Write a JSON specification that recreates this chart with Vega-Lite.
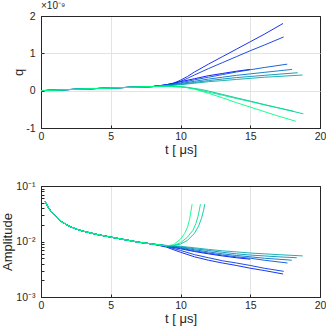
{
  "$schema": "https://vega.github.io/schema/vega-lite/v6.json",
  "background": "white",
  "padding": {"left": 0, "top": 0, "right": 0, "bottom": 0},
  "bounds": "flush",
  "spacing": 58,
  "config": {
    "font": "Liberation Sans",
    "view": {"stroke": "#262626", "strokeWidth": 1},
    "axis": {
      "labelFont": "Liberation Sans", "titleFont": "Liberation Sans",
      "labelFontSize": 10.5, "titleFontSize": 13, "titleFontWeight": "normal",
      "labelColor": "#262626", "titleColor": "#262626",
      "gridWidth": 1, "tickColor": "#262626", "tickSize": -3,
      "domain": false, "labelFlush": false, "labelOverlap": false
    },
    "axisX": {"labelPadding": 6, "minExtent": 13, "maxExtent": 13, "titlePadding": 2},
    "axisY": {"labelPadding": 9}
  },
  "datasets": {
    "qdata": [
      {"s":0,"t":0,"q":0},{"s":0,"t":2,"q":0.03e-9},{"s":0,"t":4,"q":0.058e-9},{"s":0,"t":6,"q":0.085e-9},{"s":0,"t":8,"q":0.11e-9},
      {"s":0,"t":9,"q":0.16e-9},{"s":0,"t":10,"q":0.24e-9},{"s":0,"t":11,"q":0.32e-9},{"s":0,"t":12,"q":0.40e-9},{"s":0,"t":13,"q":0.46e-9},{"s":0,"t":14,"q":0.52e-9},{"s":0,"t":15,"q":0.57e-9},
      {"s":1,"t":0,"q":0},{"s":1,"t":2,"q":0.03e-9},{"s":1,"t":4,"q":0.058e-9},{"s":1,"t":6,"q":0.085e-9},{"s":1,"t":8,"q":0.11e-9},
      {"s":1,"t":8.5,"q":0.13e-9},{"s":1,"t":9,"q":0.16e-9},{"s":1,"t":9.5,"q":0.2e-9},{"s":1,"t":10,"q":0.28e-9},{"s":1,"t":10.5,"q":0.38e-9},{"s":1,"t":11,"q":0.5e-9},{"s":1,"t":12,"q":0.71e-9},{"s":1,"t":13,"q":0.91e-9},{"s":1,"t":14,"q":1.11e-9},{"s":1,"t":15,"q":1.31e-9},{"s":1,"t":16,"q":1.51e-9},{"s":1,"t":17.35,"q":1.8e-9},
      {"s":2,"t":0,"q":0},{"s":2,"t":2,"q":0.03e-9},{"s":2,"t":4,"q":0.058e-9},{"s":2,"t":6,"q":0.085e-9},{"s":2,"t":8,"q":0.11e-9},
      {"s":2,"t":8.5,"q":0.13e-9},{"s":2,"t":9,"q":0.155e-9},{"s":2,"t":9.5,"q":0.19e-9},{"s":2,"t":10,"q":0.25e-9},{"s":2,"t":10.5,"q":0.33e-9},{"s":2,"t":11,"q":0.42e-9},{"s":2,"t":12,"q":0.59e-9},{"s":2,"t":13,"q":0.75e-9},{"s":2,"t":14,"q":0.91e-9},{"s":2,"t":15,"q":1.07e-9},{"s":2,"t":16,"q":1.22e-9},{"s":2,"t":17.4,"q":1.44e-9},
      {"s":3,"t":0,"q":0},{"s":3,"t":2,"q":0.03e-9},{"s":3,"t":4,"q":0.058e-9},{"s":3,"t":6,"q":0.085e-9},{"s":3,"t":8,"q":0.11e-9},
      {"s":3,"t":9,"q":0.15e-9},{"s":3,"t":10,"q":0.21e-9},{"s":3,"t":11,"q":0.29e-9},{"s":3,"t":12,"q":0.36e-9},{"s":3,"t":13,"q":0.43e-9},{"s":3,"t":14,"q":0.5e-9},{"s":3,"t":15,"q":0.56e-9},{"s":3,"t":16,"q":0.62e-9},{"s":3,"t":17.65,"q":0.71e-9},
      {"s":4,"t":0,"q":0},{"s":4,"t":2,"q":0.03e-9},{"s":4,"t":4,"q":0.058e-9},{"s":4,"t":6,"q":0.085e-9},{"s":4,"t":8,"q":0.11e-9},
      {"s":4,"t":9,"q":0.145e-9},{"s":4,"t":10,"q":0.19e-9},{"s":4,"t":11,"q":0.25e-9},{"s":4,"t":12,"q":0.31e-9},{"s":4,"t":13,"q":0.36e-9},{"s":4,"t":14,"q":0.41e-9},{"s":4,"t":15,"q":0.45e-9},{"s":4,"t":16,"q":0.49e-9},{"s":4,"t":17,"q":0.53e-9},{"s":4,"t":18,"q":0.57e-9},
      {"s":5,"t":0,"q":0},{"s":5,"t":2,"q":0.03e-9},{"s":5,"t":4,"q":0.058e-9},{"s":5,"t":6,"q":0.085e-9},{"s":5,"t":8,"q":0.11e-9},
      {"s":5,"t":9,"q":0.14e-9},{"s":5,"t":10,"q":0.17e-9},{"s":5,"t":11,"q":0.22e-9},{"s":5,"t":12,"q":0.27e-9},{"s":5,"t":13,"q":0.31e-9},{"s":5,"t":14,"q":0.35e-9},{"s":5,"t":15,"q":0.38e-9},{"s":5,"t":16,"q":0.41e-9},{"s":5,"t":17,"q":0.44e-9},{"s":5,"t":18.4,"q":0.48e-9},
      {"s":6,"t":0,"q":0},{"s":6,"t":2,"q":0.03e-9},{"s":6,"t":4,"q":0.058e-9},{"s":6,"t":6,"q":0.085e-9},{"s":6,"t":8,"q":0.11e-9},
      {"s":6,"t":9,"q":0.13e-9},{"s":6,"t":10,"q":0.16e-9},{"s":6,"t":11,"q":0.2e-9},{"s":6,"t":12,"q":0.24e-9},{"s":6,"t":13,"q":0.27e-9},{"s":6,"t":14,"q":0.3e-9},{"s":6,"t":15,"q":0.33e-9},{"s":6,"t":16,"q":0.36e-9},{"s":6,"t":17,"q":0.38e-9},{"s":6,"t":18.75,"q":0.42e-9},
      {"s":7,"t":0,"q":0},{"s":7,"t":2,"q":0.03e-9},{"s":7,"t":4,"q":0.058e-9},{"s":7,"t":6,"q":0.085e-9},{"s":7,"t":8,"q":0.11e-9},
      {"s":7,"t":9,"q":0.12e-9},{"s":7,"t":10,"q":0.11e-9},{"s":7,"t":10.5,"q":0.09e-9},{"s":7,"t":11,"q":0.06e-9},{"s":7,"t":11.5,"q":0.03e-9},{"s":7,"t":12,"q":-0.01e-9},{"s":7,"t":13,"q":-0.1e-9},{"s":7,"t":14,"q":-0.19e-9},{"s":7,"t":15,"q":-0.28e-9},{"s":7,"t":16,"q":-0.37e-9},{"s":7,"t":17,"q":-0.46e-9},{"s":7,"t":18.8,"q":-0.62e-9},
      {"s":8,"t":0,"q":0},{"s":8,"t":2,"q":0.03e-9},{"s":8,"t":4,"q":0.058e-9},{"s":8,"t":6,"q":0.085e-9},{"s":8,"t":8,"q":0.11e-9},
      {"s":8,"t":9,"q":0.12e-9},{"s":8,"t":10,"q":0.1e-9},{"s":8,"t":10.5,"q":0.08e-9},{"s":8,"t":11,"q":0.05e-9},{"s":8,"t":12,"q":-0.04e-9},{"s":8,"t":13,"q":-0.12e-9},{"s":8,"t":14,"q":-0.21e-9},{"s":8,"t":15,"q":-0.29e-9},{"s":8,"t":16,"q":-0.38e-9},{"s":8,"t":17,"q":-0.46e-9},{"s":8,"t":18.1,"q":-0.55e-9},
      {"s":9,"t":0,"q":0},{"s":9,"t":2,"q":0.03e-9},{"s":9,"t":4,"q":0.058e-9},{"s":9,"t":6,"q":0.085e-9},{"s":9,"t":8,"q":0.11e-9},
      {"s":9,"t":9,"q":0.12e-9},{"s":9,"t":10,"q":0.1e-9},{"s":9,"t":10.5,"q":0.08e-9},{"s":9,"t":11,"q":0.04e-9},{"s":9,"t":12,"q":-0.07e-9},{"s":9,"t":13,"q":-0.19e-9},{"s":9,"t":14,"q":-0.32e-9},{"s":9,"t":15,"q":-0.44e-9},{"s":9,"t":16,"q":-0.56e-9},{"s":9,"t":17,"q":-0.68e-9},{"s":9,"t":18.27,"q":-0.82e-9}
    ],
    "adata": [
      {"s":0,"t":0.3,"a":0.052},{"s":0,"t":0.5,"a":0.042},{"s":0,"t":0.75,"a":0.034},{"s":0,"t":1,"a":0.029},{"s":0,"t":1.5,"a":0.0225},{"s":0,"t":2,"a":0.019},{"s":0,"t":2.5,"a":0.0168},{"s":0,"t":3,"a":0.0154},{"s":0,"t":4,"a":0.0134},{"s":0,"t":5,"a":0.012},{"s":0,"t":6,"a":0.0108},{"s":0,"t":7,"a":0.0097},{"s":0,"t":8,"a":0.009},
      {"s":0,"t":9,"a":0.0082},{"s":0,"t":10,"a":0.0074},{"s":0,"t":11,"a":0.0066},{"s":0,"t":12,"a":0.006},{"s":0,"t":13,"a":0.0055},{"s":0,"t":14,"a":0.0051},{"s":0,"t":15,"a":0.0048},
      {"s":1,"t":0.3,"a":0.052},{"s":1,"t":0.5,"a":0.042},{"s":1,"t":0.75,"a":0.034},{"s":1,"t":1,"a":0.029},{"s":1,"t":1.5,"a":0.0225},{"s":1,"t":2,"a":0.019},{"s":1,"t":2.5,"a":0.0168},{"s":1,"t":3,"a":0.0154},{"s":1,"t":4,"a":0.0134},{"s":1,"t":5,"a":0.012},{"s":1,"t":6,"a":0.0108},{"s":1,"t":7,"a":0.0097},{"s":1,"t":8,"a":0.009},
      {"s":1,"t":9,"a":0.0079},{"s":1,"t":10,"a":0.0064},{"s":1,"t":11,"a":0.0053},{"s":1,"t":12,"a":0.0046},{"s":1,"t":13,"a":0.0041},{"s":1,"t":14,"a":0.0037},{"s":1,"t":15,"a":0.0033},{"s":1,"t":16,"a":0.003},{"s":1,"t":17.35,"a":0.0026},
      {"s":2,"t":0.3,"a":0.052},{"s":2,"t":0.5,"a":0.042},{"s":2,"t":0.75,"a":0.034},{"s":2,"t":1,"a":0.029},{"s":2,"t":1.5,"a":0.0225},{"s":2,"t":2,"a":0.019},{"s":2,"t":2.5,"a":0.0168},{"s":2,"t":3,"a":0.0154},{"s":2,"t":4,"a":0.0134},{"s":2,"t":5,"a":0.012},{"s":2,"t":6,"a":0.0108},{"s":2,"t":7,"a":0.0097},{"s":2,"t":8,"a":0.009},
      {"s":2,"t":9,"a":0.0081},{"s":2,"t":10,"a":0.0069},{"s":2,"t":11,"a":0.0058},{"s":2,"t":12,"a":0.0051},{"s":2,"t":13,"a":0.0045},{"s":2,"t":14,"a":0.0041},{"s":2,"t":15,"a":0.0037},{"s":2,"t":16,"a":0.0033},{"s":2,"t":17.4,"a":0.0029},
      {"s":3,"t":0.3,"a":0.052},{"s":3,"t":0.5,"a":0.042},{"s":3,"t":0.75,"a":0.034},{"s":3,"t":1,"a":0.029},{"s":3,"t":1.5,"a":0.0225},{"s":3,"t":2,"a":0.019},{"s":3,"t":2.5,"a":0.0168},{"s":3,"t":3,"a":0.0154},{"s":3,"t":4,"a":0.0134},{"s":3,"t":5,"a":0.012},{"s":3,"t":6,"a":0.0108},{"s":3,"t":7,"a":0.0097},{"s":3,"t":8,"a":0.009},
      {"s":3,"t":9,"a":0.0083},{"s":3,"t":10,"a":0.0076},{"s":3,"t":11,"a":0.0068},{"s":3,"t":12,"a":0.0062},{"s":3,"t":13,"a":0.0057},{"s":3,"t":14,"a":0.0053},{"s":3,"t":15,"a":0.005},{"s":3,"t":16,"a":0.0046},{"s":3,"t":17.67,"a":0.0041},
      {"s":4,"t":0.3,"a":0.052},{"s":4,"t":0.5,"a":0.042},{"s":4,"t":0.75,"a":0.034},{"s":4,"t":1,"a":0.029},{"s":4,"t":1.5,"a":0.0225},{"s":4,"t":2,"a":0.019},{"s":4,"t":2.5,"a":0.0168},{"s":4,"t":3,"a":0.0154},{"s":4,"t":4,"a":0.0134},{"s":4,"t":5,"a":0.012},{"s":4,"t":6,"a":0.0108},{"s":4,"t":7,"a":0.0097},{"s":4,"t":8,"a":0.009},
      {"s":4,"t":9,"a":0.0084},{"s":4,"t":10,"a":0.0078},{"s":4,"t":11,"a":0.0071},{"s":4,"t":12,"a":0.0065},{"s":4,"t":13,"a":0.006},{"s":4,"t":14,"a":0.0056},{"s":4,"t":15,"a":0.0053},{"s":4,"t":16,"a":0.005},{"s":4,"t":17.98,"a":0.0046},
      {"s":5,"t":0.3,"a":0.052},{"s":5,"t":0.5,"a":0.042},{"s":5,"t":0.75,"a":0.034},{"s":5,"t":1,"a":0.029},{"s":5,"t":1.5,"a":0.0225},{"s":5,"t":2,"a":0.019},{"s":5,"t":2.5,"a":0.0168},{"s":5,"t":3,"a":0.0154},{"s":5,"t":4,"a":0.0134},{"s":5,"t":5,"a":0.012},{"s":5,"t":6,"a":0.0108},{"s":5,"t":7,"a":0.0097},{"s":5,"t":8,"a":0.009},
      {"s":5,"t":9,"a":0.0084},{"s":5,"t":10,"a":0.008},{"s":5,"t":11,"a":0.0074},{"s":5,"t":12,"a":0.0069},{"s":5,"t":13,"a":0.0064},{"s":5,"t":14,"a":0.006},{"s":5,"t":15,"a":0.0057},{"s":5,"t":16,"a":0.0055},{"s":5,"t":17,"a":0.0053},{"s":5,"t":18.33,"a":0.0051},
      {"s":6,"t":0.3,"a":0.052},{"s":6,"t":0.5,"a":0.042},{"s":6,"t":0.75,"a":0.034},{"s":6,"t":1,"a":0.029},{"s":6,"t":1.5,"a":0.0225},{"s":6,"t":2,"a":0.019},{"s":6,"t":2.5,"a":0.0168},{"s":6,"t":3,"a":0.0154},{"s":6,"t":4,"a":0.0134},{"s":6,"t":5,"a":0.012},{"s":6,"t":6,"a":0.0108},{"s":6,"t":7,"a":0.0097},{"s":6,"t":8,"a":0.009},
      {"s":6,"t":9,"a":0.0085},{"s":6,"t":10,"a":0.0082},{"s":6,"t":11,"a":0.0077},{"s":6,"t":12,"a":0.0072},{"s":6,"t":13,"a":0.0068},{"s":6,"t":14,"a":0.0065},{"s":6,"t":15,"a":0.0062},{"s":6,"t":16,"a":0.006},{"s":6,"t":17,"a":0.0058},{"s":6,"t":18.76,"a":0.0055},
      {"s":7,"t":0.3,"a":0.052},{"s":7,"t":0.5,"a":0.042},{"s":7,"t":0.75,"a":0.034},{"s":7,"t":1,"a":0.029},{"s":7,"t":1.5,"a":0.0225},{"s":7,"t":2,"a":0.019},{"s":7,"t":2.5,"a":0.0168},{"s":7,"t":3,"a":0.0154},{"s":7,"t":4,"a":0.0134},{"s":7,"t":5,"a":0.012},{"s":7,"t":6,"a":0.0108},{"s":7,"t":7,"a":0.0097},{"s":7,"t":8,"a":0.009},
      {"s":7,"t":9,"a":0.0084},{"s":7,"t":9.5,"a":0.0084},{"s":7,"t":10,"a":0.009},{"s":7,"t":10.5,"a":0.0105},{"s":7,"t":11,"a":0.014},{"s":7,"t":11.3,"a":0.019},{"s":7,"t":11.5,"a":0.026},{"s":7,"t":11.65,"a":0.036},{"s":7,"t":11.74,"a":0.047},
      {"s":8,"t":0.3,"a":0.052},{"s":8,"t":0.5,"a":0.042},{"s":8,"t":0.75,"a":0.034},{"s":8,"t":1,"a":0.029},{"s":8,"t":1.5,"a":0.0225},{"s":8,"t":2,"a":0.019},{"s":8,"t":2.5,"a":0.0168},{"s":8,"t":3,"a":0.0154},{"s":8,"t":4,"a":0.0134},{"s":8,"t":5,"a":0.012},{"s":8,"t":6,"a":0.0108},{"s":8,"t":7,"a":0.0097},{"s":8,"t":8,"a":0.009},
      {"s":8,"t":9,"a":0.0083},{"s":8,"t":9.5,"a":0.0085},{"s":8,"t":10,"a":0.0095},{"s":8,"t":10.5,"a":0.012},{"s":8,"t":10.9,"a":0.016},{"s":8,"t":11.1,"a":0.021},{"s":8,"t":11.25,"a":0.028},{"s":8,"t":11.35,"a":0.037},{"s":8,"t":11.43,"a":0.047},
      {"s":9,"t":0.3,"a":0.052},{"s":9,"t":0.5,"a":0.042},{"s":9,"t":0.75,"a":0.034},{"s":9,"t":1,"a":0.029},{"s":9,"t":1.5,"a":0.0225},{"s":9,"t":2,"a":0.019},{"s":9,"t":2.5,"a":0.0168},{"s":9,"t":3,"a":0.0154},{"s":9,"t":4,"a":0.0134},{"s":9,"t":5,"a":0.012},{"s":9,"t":6,"a":0.0108},{"s":9,"t":7,"a":0.0097},{"s":9,"t":8,"a":0.009},
      {"s":9,"t":9,"a":0.0083},{"s":9,"t":9.5,"a":0.0088},{"s":9,"t":10,"a":0.011},{"s":9,"t":10.3,"a":0.014},{"s":9,"t":10.5,"a":0.018},{"s":9,"t":10.65,"a":0.025},{"s":9,"t":10.75,"a":0.035},{"s":9,"t":10.83,"a":0.047}
    ]
  },
  "vconcat": [
    {
      "width": 279, "height": 112,
      "title": {"text": "×10⁻⁹", "anchor": "start", "frame": "group", "fontSize": 10, "fontWeight": "normal", "offset": 0, "color": "#262626", "font": "Liberation Sans"},
      "data": {"name": "qdata"},
      "mark": {"type": "line", "strokeWidth": 0.9},
      "encoding": {
        "x": {"field": "t", "type": "quantitative", "scale": {"domain": [0, 20], "nice": false},
              "axis": {"values": [0, 5, 10, 15, 20], "title": "t [ μs]",
                       "gridColor": {"condition": {"test": "datum.value == 0 || datum.value == 20", "value": "#262626"}, "value": "#e3e3e3"}}},
        "y": {"field": "q", "type": "quantitative", "scale": {"domain": [-1e-9, 2e-9], "nice": false, "zero": false},
              "axis": {"values": [-1e-9, 0, 1e-9, 2e-9], "labelExpr": "'' + round(datum.value*1e9)", "title": "q",
                       "minExtent": 12, "maxExtent": 12, "titlePadding": 4,
                       "gridColor": {"condition": {"test": "datum.value == -1e-9 || datum.value == 2e-9", "value": "#262626"}, "value": "#e3e3e3"}}},
        "color": {"field": "s", "type": "nominal", "legend": null,
                  "scale": {"domain": [0,1,2,3,4,5,6,7,8,9], "range": ["#0000ff","#001cf1","#0039e3","#0055d5","#0071c6","#008eb8","#00aaaa","#00c69c","#00e38e","#00ff80"]}}
      }
    },
    {
      "width": 279, "height": 111,
      "data": {"name": "adata"},
      "mark": {"type": "line", "strokeWidth": 0.9},
      "encoding": {
        "x": {"field": "t", "type": "quantitative", "scale": {"domain": [0, 20], "nice": false},
              "axis": {"values": [0, 5, 10, 15, 20], "title": "t [ μs]",
                       "gridColor": {"condition": {"test": "datum.value == 0 || datum.value == 20", "value": "#262626"}, "value": "#e3e3e3"}}},
        "y": {"field": "a", "type": "quantitative", "scale": {"type": "log", "domain": [0.001, 0.1], "nice": false},
              "axis": {"values": [0.001,0.002,0.003,0.004,0.005,0.006,0.007,0.008,0.009,0.01,0.02,0.03,0.04,0.05,0.06,0.07,0.08,0.09,0.1],
                       "labelExpr": "datum.value == 0.1 ? '10⁻¹' : datum.value == 0.01 ? '10⁻²' : datum.value == 0.001 ? '10⁻³' : ''",
                       "title": "Amplitude", "minExtent": 23, "maxExtent": 23, "titlePadding": 4,
                       "gridDash": {"condition": {"test": "datum.value == 0.1 || datum.value == 0.01 || datum.value == 0.001", "value": []}, "value": [1, 2]},
                       "gridColor": {"condition": {"test": "datum.value == 0.1 || datum.value == 0.001", "value": "#262626"}, "value": {"expr": "datum.value == 0.01 ? '#e3e3e3' : '#cfcfcf'"}}}},
        "color": {"field": "s", "type": "nominal", "legend": null,
                  "scale": {"domain": [0,1,2,3,4,5,6,7,8,9], "range": ["#0000ff","#001cf1","#0039e3","#0055d5","#0071c6","#008eb8","#00aaaa","#00c69c","#00e38e","#00ff80"]}}
      }
    }
  ]
}
